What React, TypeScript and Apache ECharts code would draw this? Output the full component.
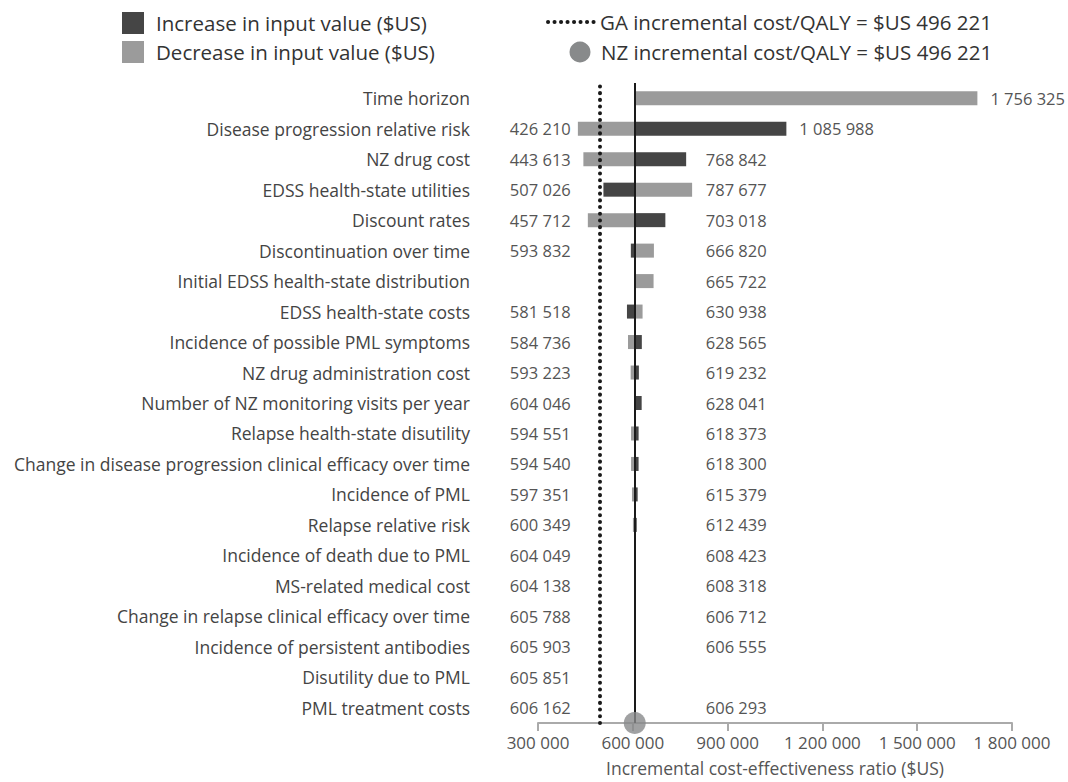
import React, { useEffect, useRef } from "react";
import * as echarts from "echarts";

const categories = [
  "Time horizon",
  "Disease progression relative risk",
  "NZ drug cost",
  "EDSS health-state utilities",
  "Discount rates",
  "Discontinuation over time",
  "Initial EDSS health-state distribution",
  "EDSS health-state costs",
  "Incidence of possible PML symptoms",
  "NZ drug administration cost",
  "Number of NZ monitoring visits per year",
  "Relapse health-state disutility",
  "Change in disease progression clinical efficacy over time",
  "Incidence of PML",
  "Relapse relative risk",
  "Incidence of death due to PML",
  "MS-related medical cost",
  "Change in relapse clinical efficacy over time",
  "Incidence of persistent antibodies",
  "Disutility due to PML",
  "PML treatment costs",
];

const increaseValues: (number | null)[] = [
  null, 1085988, 768842, 507026, 703018, 593832, null, 581518, 628565, 619232,
  628041, 618373, 618300, 615379, 612439, 608423, 604138, 605788, 606555, null, 606293,
];

const decreaseValues: (number | null)[] = [
  1756325, 426210, 443613, 787677, 457712, 666820, 665722, 630938, 584736, 593223,
  604046, 594551, 594540, 597351, 600349, 604049, 608318, 606712, 605903, 605851, 606162,
];

const BASE_ICER = 606227;
const GA_ICER = 496221;
const xTicks = { min: 300000, max: 1800000, interval: 300000 };

const FONT = "Open Sans";
const FS = 16.5;
const FS_CAT = 17.5;
const DARK = "#454545";
const LIGHT = "#9b9b9b";
const CIRCLE = "#888a8b";
const TEXT = "#555555";

const fmt = (v: number) =>
  Math.round(v)
    .toString()
    .replace(/\B(?=(\d{3})+(?!\d))/g, " ");

function makeBarSeries(name: string, values: (number | null)[], color: string) {
  const data: number[][] = [];
  values.forEach((v, i) => {
    if (v != null) data.push([v, i]);
  });
  return {
    type: "custom",
    name,
    xAxisIndex: 0,
    yAxisIndex: 0,
    encode: { x: 0, y: 1 },
    data,
    renderItem: (params: any, api: any) => {
      const v = api.value(0);
      const idx = api.value(1);
      const s = api.coord([BASE_ICER, idx]);
      const e = api.coord([v, idx]);
      const h = api.size([0, 1])[1] * 0.46;
      const isRight = v > BASE_ICER;
      let tx: number;
      let align: string;
      let bg: any = undefined;
      let pad: any = 0;
      if (isRight) {
        tx = Math.max(s[0] + 71, e[0] + 13);
        align = "left";
        const w = api.getWidth();
        if (tx + 76 > w) {
          tx = w - 3;
          align = "right";
          bg = "#ffffff";
          pad = [2, 0, 2, 13];
        }
      } else {
        tx = s[0] - 64;
        align = "right";
      }
      return {
        type: "group",
        children: [
          {
            type: "rect",
            shape: {
              x: Math.min(s[0], e[0]),
              y: s[1] - h / 2,
              width: Math.abs(e[0] - s[0]),
              height: h,
            },
            style: { fill: color },
          },
          {
            type: "text",
            x: tx,
            y: s[1],
            z2: 10,
            style: {
              text: fmt(v),
              textAlign: align,
              textVerticalAlign: "middle",
              fontSize: FS,
              fontFamily: FONT,
              fill: TEXT,
              backgroundColor: bg,
              padding: pad,
            },
          },
        ],
      };
    },
  };
}

export default function App() {
  const ref = useRef<HTMLDivElement>(null);
  useEffect(() => {
    if (!ref.current) return;
    const chart = echarts.init(ref.current, undefined, { renderer: "svg" });
    const legendText = (text: string, x: number, y: number) => ({
      type: "text",
      x,
      y,
      style: {
        text,
        fontSize: 20.5,
        fontFamily: FONT,
        fill: "#333333",
        textVerticalAlign: "middle",
      },
    });
    chart.setOption({
      animation: false,
      textStyle: { fontFamily: FONT },
      grid: { left: 538, right: 56, top: 83, bottom: 55, containLabel: false },
      xAxis: {
        type: "value",
        min: xTicks.min,
        max: xTicks.max,
        interval: xTicks.interval,
        axisLine: { show: true, lineStyle: { color: "#aaaaaa", width: 2 } },
        axisTick: { show: true, length: 8, lineStyle: { color: "#aaaaaa", width: 2 } },
        splitLine: { show: false },
        axisLabel: {
          formatter: (v: number) => fmt(v),
          color: TEXT,
          fontSize: 17,
          fontFamily: FONT,
          margin: 11,
        },
        name: "Incremental cost-effectiveness ratio ($US)",
        nameLocation: "middle",
        nameGap: 36,
        nameTextStyle: { color: TEXT, fontSize: FS_CAT, fontFamily: FONT },
      },
      yAxis: [
        {
          type: "category",
          data: categories,
          inverse: true,
          axisLine: { show: false },
          axisTick: { show: false },
          axisLabel: { color: "#444444", fontSize: FS_CAT, fontFamily: FONT, margin: 68 },
        },
        { type: "value", min: 0, max: 1, show: false },
      ],
      series: [
        makeBarSeries("Decrease in input value ($US)", decreaseValues, LIGHT),
        makeBarSeries("Increase in input value ($US)", increaseValues, DARK),
        {
          type: "scatter",
          name: "NZ incremental cost/QALY",
          xAxisIndex: 0,
          yAxisIndex: 1,
          data: [[BASE_ICER, 0]],
          symbolSize: 22,
          itemStyle: { color: CIRCLE },
          z: 10,
          markLine: {
            silent: true,
            symbol: ["none", "none"],
            label: { show: false },
            data: [
              { xAxis: BASE_ICER, lineStyle: { color: "#1a1a1a", width: 2, type: "solid" } },
              {
                xAxis: GA_ICER,
                lineStyle: { color: "#1a1a1a", width: 4, type: [0.1, 6.6], cap: "round" },
              },
            ],
          },
        },
      ],
      graphic: [
        { type: "rect", left: 122, top: 12, shape: { width: 22, height: 22 }, style: { fill: DARK } },
        legendText("Increase in input value ($US)", 156, 23),
        { type: "rect", left: 122, top: 41, shape: { width: 22, height: 22 }, style: { fill: LIGHT } },
        legendText("Decrease in input value ($US)", 156, 52),
        {
          type: "line",
          shape: { x1: 548, y1: 22, x2: 594, y2: 22 },
          style: { stroke: "#1a1a1a", lineWidth: 4, lineDash: [0.1, 6.4], lineCap: "round" },
        },
        legendText("GA incremental cost/QALY = $US 496 221", 600, 22),
        { type: "circle", shape: { cx: 580, cy: 52, r: 10.5 }, style: { fill: CIRCLE } },
        legendText("NZ incremental cost/QALY = $US 496 221", 601, 52),
      ],
    });
    return () => chart.dispose();
  }, []);
  return <div ref={ref} style={{ width: 1068, height: 782, position: "absolute", left: 0, top: 0 }} />;
}
